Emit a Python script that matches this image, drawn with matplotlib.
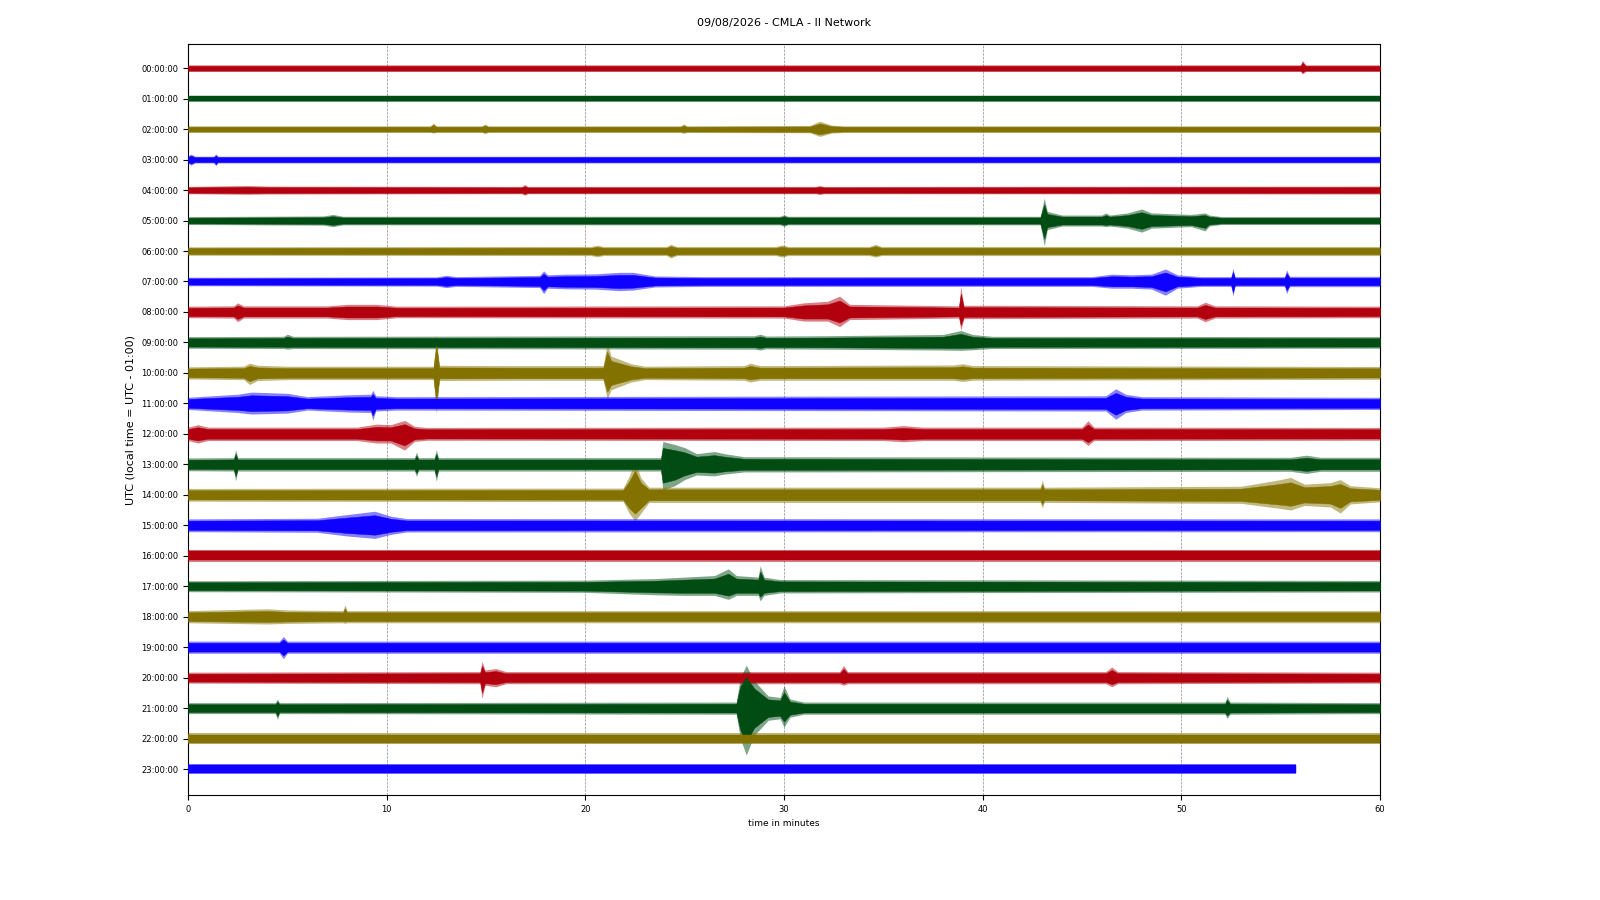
"""Dayplot of the CMLA (II network) record, drawn as per-hour amplitude envelopes."""

import numpy
from matplotlib import pyplot

# Hour rows shown on the vertical axis.
hour_labels = ['%02d:00:00' % h for h in range(24)]

# ObsPy style dayplot colours, repeated every four hours.
trace_colors = ['#B2000F', '#004C12', '#847200', '#0E01FF']

# Envelope for each hour: (minute, up, down),
# amplitudes in units of the spacing between two hour rows.
env_00 = [(0, .11, .11), (56.0, .11, .11), (56.1, .26, .19), (56.25, .11, .11), (60, .11, .11)]
env_01 = [(0, .10, .10), (60, .10, .10)]
env_02 = [(0, .11, .11), (12.2, .11, .11), (12.35, .2, .13), (12.5, .11, .11), (14.8, .11, .11),
          (14.95, .17, .15), (15.1, .11, .11), (24.8, .11, .11), (24.95, .17, .14), (25.1, .11, .11),
          (31.3, .12, .12), (31.8, .26, .24), (32.4, .13, .13), (33, .11, .11), (60, .11, .11)]
env_03 = [(0, .12, .12), (0.15, .18, .18), (0.35, .11, .11), (1.3, .11, .11), (1.4, .19, .2),
          (1.5, .11, .11), (60, .11, .11)]
env_04 = [(0, .12, .12), (3, .15, .14), (4, .13, .13), (16.8, .12, .12), (16.95, .18, .17),
          (17.1, .12, .12), (31.6, .12, .12), (31.8, .15, .15), (32, .12, .12), (60, .13, .13)]
env_05 = [(0, .13, .13), (6.8, .15, .15), (7.3, .2, .2), (7.8, .14, .14), (29.8, .14, .14),
          (30, .19, .19), (30.2, .14, .14), (42.9, .14, .14), (43.1, .74, .83), (43.25, .3, .3),
          (44, .18, .18), (46, .18, .18), (46.2, .25, .2), (46.4, .18, .18), (47.3, .25, .25),
          (48, .38, .38), (48.5, .25, .25), (50.5, .2, .2), (51.2, .25, .34), (51.4, .18, .18),
          (52, .13, .13), (60, .13, .13)]
env_06 = [(0, .14, .14), (20.3, .15, .15), (20.6, .19, .19), (20.9, .15, .15), (24.1, .15, .15),
          (24.3, .22, .23), (24.6, .15, .15), (29.6, .15, .15), (29.9, .2, .2), (30.2, .15, .15),
          (34.3, .15, .15), (34.6, .22, .2), (34.9, .15, .15), (60, .15, .15)]
env_07 = [(0, .14, .14), (12.5, .15, .15), (13, .2, .2), (13.5, .16, .16), (17.7, .2, .2),
          (17.9, .35, .4), (18.1, .22, .22), (19, .24, .24), (20.5, .25, .25), (21.7, .3, .3),
          (22.4, .3, .28), (23.5, .18, .18), (26, .16, .16), (45.5, .16, .16), (46.5, .24, .22),
          (47.5, .22, .22), (48.5, .24, .25), (49.2, .41, .45), (49.8, .22, .22), (51, .16, .16),
          (52.5, .16, .16), (52.6, .43, .48), (52.7, .16, .16), (55.2, .16, .16), (55.3, .38, .4),
          (55.45, .17, .17), (60, .17, .17)]
env_08 = [(0, .19, .19), (2.3, .2, .2), (2.5, .3, .32), (2.8, .2, .2), (7, .2, .2), (8, .25, .25),
          (9.5, .25, .25), (10.5, .19, .19), (30, .2, .2), (31, .3, .3), (32.2, .35, .3),
          (32.8, .52, .48), (33.3, .25, .25), (38.8, .2, .2), (38.9, .83, .6), (39.05, .22, .22),
          (50.8, .2, .2), (51.2, .32, .32), (51.7, .2, .2), (60, .19, .19)]
env_09 = [(0, .19, .19), (4.8, .2, .2), (5, .27, .22), (5.3, .2, .2), (28.5, .22, .22),
          (28.8, .27, .25), (29.1, .21, .21), (32, .22, .22), (38, .26, .25), (38.9, .39, .26),
          (39.5, .26, .24), (40.5, .2, .2), (60, .19, .19)]
env_10 = [(0, .2, .2), (2.8, .22, .22), (3.1, .32, .38), (3.5, .25, .25), (5, .22, .22),
          (12.35, .22, .22), (12.5, 1.24, 1.34), (12.65, .25, .25), (16.5, .24, .24),
          (20.9, .24, .24), (21.1, .97, .86), (21.3, .55, .55), (22.3, .3, .3), (23, .22, .22),
          (28, .24, .24), (28.3, .32, .3), (28.8, .24, .24), (38.5, .26, .24), (39, .3, .28),
          (39.5, .24, .24), (60, .21, .21)]
env_11 = [(0, .2, .2), (2.5, .3, .3), (3.2, .37, .35), (5, .33, .32), (6, .22, .22), (8, .28, .28),
          (9.2, .3, .3), (9.3, .43, .55), (9.45, .25, .25), (10.5, .22, .22), (46.2, .25, .25),
          (46.7, .48, .52), (47.2, .3, .3), (48, .22, .22), (60, .2, .2)]
env_12 = [(0, .22, .22), (0.5, .3, .3), (1, .22, .22), (8.5, .22, .22), (9.5, .32, .3),
          (10.2, .3, .3), (10.9, .44, .53), (11.4, .25, .25), (12, .21, .21), (35, .22, .22),
          (36, .27, .26), (37, .22, .22), (45, .22, .22), (45.3, .43, .38), (45.6, .22, .22),
          (60, .21, .21)]
env_13 = [(0, .21, .21), (2.3, .22, .22), (2.4, .48, .54), (2.5, .22, .22), (11.4, .22, .22),
          (11.5, .4, .4), (11.6, .22, .22), (12.4, .22, .22), (12.5, .48, .56), (12.6, .22, .22),
          (23.8, .22, .22), (23.9, .75, .84), (24.5, .65, .7), (25, .55, .5), (25.6, .35, .35),
          (26.5, .42, .38), (27, .35, .32), (28, .25, .25), (55.5, .23, .23), (56.3, .3, .3),
          (57, .23, .23), (60, .23, .23)]
env_14 = [(0, .21, .21), (21.9, .22, .22), (22.2, .6, .6), (22.5, 1.1, .86), (22.8, .55, .6),
          (23.2, .25, .25), (35, .25, .25), (42.9, .25, .25), (43, .48, .43), (43.1, .25, .25),
          (53, .28, .28), (55, .5, .45), (55.5, .57, .5), (56.2, .35, .35), (57.5, .4, .4),
          (58, .5, .6), (58.5, .3, .3), (60, .23, .23)]
env_15 = [(0, .21, .21), (6.5, .23, .23), (8, .35, .35), (9.4, .46, .43), (10.2, .3, .3),
          (11, .22, .22), (60, .21, .21)]
env_16 = [(0, .2, .2), (60, .2, .2)]
env_17 = [(0, .18, .18), (20, .2, .2), (23.5, .25, .28), (25, .3, .3), (26.5, .35, .3),
          (27.2, .57, .43), (27.6, .35, .3), (28.7, .3, .3), (28.8, .67, .48), (29, .3, .3),
          (29.8, .22, .22), (60, .19, .19)]
env_18 = [(0, .2, .2), (4, .26, .24), (5, .22, .22), (7.8, .2, .2), (7.9, .39, .22), (8, .2, .2),
          (60, .2, .2)]
env_19 = [(0, .2, .2), (4.6, .2, .2), (4.8, .35, .38), (5, .2, .2), (60, .2, .2)]
env_20 = [(0, .18, .18), (14.7, .2, .2), (14.8, .54, .68), (14.95, .25, .25), (15.5, .3, .3),
          (16, .2, .2), (32.8, .2, .2), (33, .4, .25), (33.2, .2, .2), (46.2, .2, .2),
          (46.5, .35, .3), (46.8, .2, .2), (60, .18, .18)]
env_21 = [(0, .18, .18), (4.4, .18, .18), (4.5, .3, .37), (4.6, .18, .18), (27.6, .2, .2),
          (27.8, 1.0, 1.0), (28.1, 1.41, 1.54), (28.5, .9, .9), (29.2, .4, .4), (29.8, .35, .35),
          (30, .73, .62), (30.3, .3, .3), (31, .2, .2), (52.2, .2, .2), (52.3, .38, .34),
          (52.45, .2, .2), (60, .18, .18)]
env_22 = [(0, .18, .18), (60, .18, .18)]
env_23 = [(0, .17, .17), (55.75, .17, .17)]

envelopes = [env_00, env_01, env_02, env_03, env_04, env_05, env_06, env_07,
             env_08, env_09, env_10, env_11, env_12, env_13, env_14, env_15,
             env_16, env_17, env_18, env_19, env_20, env_21, env_22, env_23]

x_ticks = [0, 10, 20, 30, 40, 50, 60]

pyplot.rc('font', family='DejaVu Sans')

fig = pyplot.figure(figsize=(16.0, 9.0), dpi=100)
ax = fig.add_axes([0.1175, 0.1167, 0.745, 0.8343])

# Outer fringe (sparse peaks of the noise) and dense core of each trace.
for row, env in enumerate(envelopes):
    env = numpy.array(env)
    color = trace_colors[row % 4]
    ax.fill_between(env[:, 0], row - env[:, 1], row + env[:, 2],
                    color=color, alpha=0.5, linewidth=0, zorder=3)
    ax.fill_between(env[:, 0], row - 0.72 * env[:, 1], row + 0.72 * env[:, 2],
                    color=color, linewidth=0.3, edgecolor=color, zorder=4)

ax.set_xlim(0, 60)
ax.set_ylim(23.85, -0.79)
ax.set_xticks(x_ticks)
ax.set_yticks(range(24))
ax.set_yticklabels(hour_labels)
ax.tick_params(labelsize=6)
ax.grid(axis='x', color='0.55', linestyle='--', linewidth=0.5, zorder=0)
ax.set_xlabel('time in minutes', fontsize=6.5)
ax.set_ylabel('UTC (local time = UTC - 01:00)', fontsize=8)
ax.set_title('09/08/2026 - CMLA - II Network', fontsize=8, pad=13)

fig.savefig('out.png', dpi=100)
